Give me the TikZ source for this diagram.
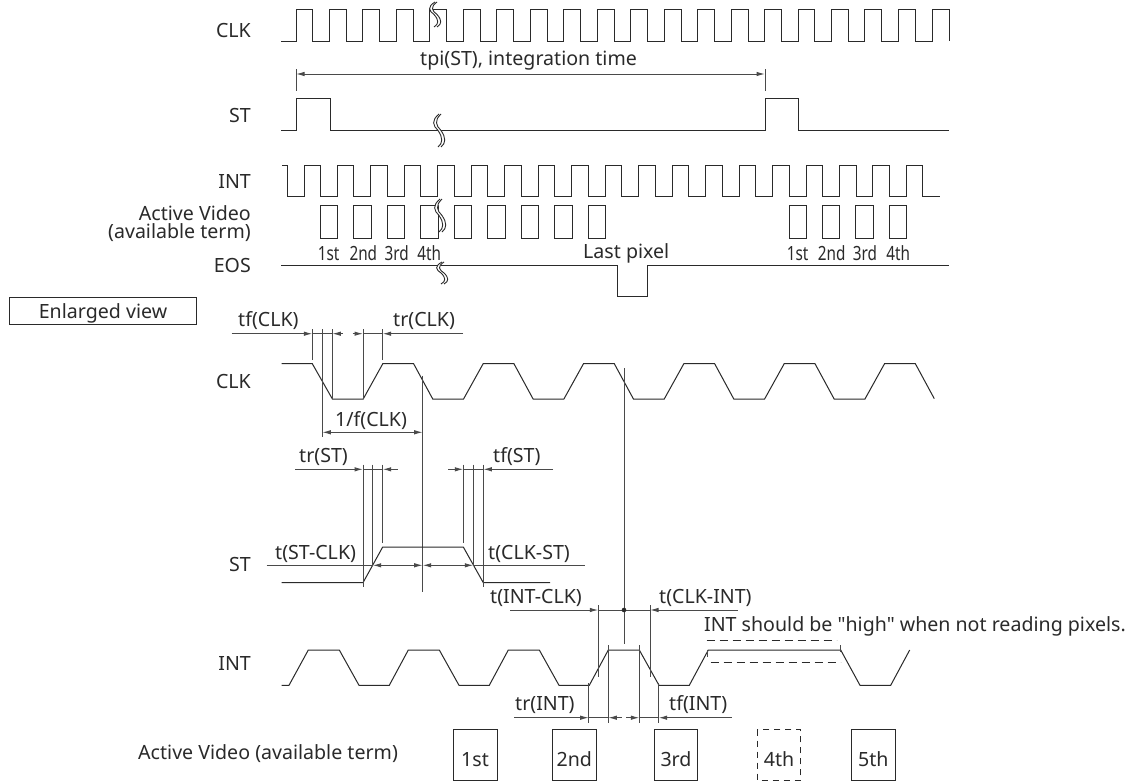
\documentclass[tikz,border=0pt]{standalone}
\usepackage{fontspec}
\setmainfont{Noto Sans}[Ligatures=TeXOff]
\usetikzlibrary{arrows.meta}
\definecolor{ink}{HTML}{2A2A2A}
\tikzset{
 wave/.style={draw=ink,line width=1pt,line join=miter},
 thin line/.style={draw=ink!85,line width=1pt},
 dim/.style={draw=ink!85,line width=1pt,{Latex[length=8.5pt,width=4.5pt]}-{Latex[length=8.5pt,width=4.5pt]}},
 tipend/.style={draw=ink!85,line width=1pt,-{Latex[length=8.5pt,width=4.5pt]}},
 lab/.style={inner sep=0pt,text=ink,font=\fontsize{19.6}{22}\selectfont,anchor=base west},
 rlab/.style={lab,anchor=base east},
 clab/.style={lab,anchor=base},
 slab/.style={inner sep=0pt,text=ink,font=\fontsize{19.6}{22}\selectfont,anchor=base,xscale=.78},
 box/.style={draw=ink,line width=1pt},
 dashbox/.style={draw=ink,line width=1pt,dash pattern=on 6pt off 5pt},
 dashline/.style={draw=ink,line width=1pt,dash pattern=on 8pt off 5pt},
}
\newcommand{\squig}[3]{% x, top, bottom
 \pgfmathsetmacro{\sqm}{#2+(#3-#2)*0.5}
 \pgfmathsetmacro{\sqn}{#2+(#3-#2)*0.72}
 \pgfmathsetmacro{\sqa}{#2+(#3-#2)*0.2}
 \pgfmathsetmacro{\sqb}{#2+(#3-#2)*0.35}
 \pgfmathsetmacro{\sqc}{#3-(#3-#2)*0.12}
 \path[fill=white] ({#1+1},#2) .. controls ({#1-7},\sqa) and ({#1-5},\sqb) .. (#1,\sqm)
   .. controls ({#1+5},\sqn) and ({#1+5},\sqc) .. (#1,#3) -- ({#1+3},#3)
   .. controls ({#1+8},\sqc) and ({#1+8},\sqn) .. ({#1+3},\sqm)
   .. controls ({#1-2},\sqb) and ({#1-4},\sqa) .. ({#1+4},#2) -- cycle;
 \draw[ink,line width=.9pt] ({#1+1},#2) .. controls ({#1-7},\sqa) and ({#1-5},\sqb) .. (#1,\sqm)
   .. controls ({#1+5},\sqn) and ({#1+5},\sqc) .. (#1,#3);
 \draw[ink,line width=.9pt] ({#1+3},#2) .. controls ({#1-4},\sqa) and ({#1-2},\sqb) .. ({#1+3},\sqm)
   .. controls ({#1+8},\sqn) and ({#1+8},\sqc) .. ({#1+3},#3);
}
\begin{document}
\begin{tikzpicture}[x=1pt,y=-1pt]
\useasboundingbox[fill=white] (0,0) rectangle (1128,782);

% ---------- overview ----------
\draw[wave] (281,41) foreach \k in {0,...,18} { -- ({296+33.47*\k},41) -- ({296+33.47*\k},9) -- ({312.9+33.47*\k},9) -- ({312.9+33.47*\k},41)} -- (932,41) -- (932,9) -- (949,9) -- (949,41);
\squig{434}{2}{27}
\draw[wave] (281,130) -- (296,130) -- (296,98) -- (330,98) -- (330,130) -- (765,130) -- (765,98) -- (798,98) -- (798,130) -- (949,130);
\squig{438}{114}{147}
\draw[thin line] (296,69) -- (296,91);
\draw[thin line] (765,69) -- (765,91);
\draw[dim] (296,74) -- (765,74);

\draw[wave] (282,165) -- (287,165) -- (287,196) foreach \k in {0,...,18} { -- ({304+33.47*\k},196) -- ({304+33.47*\k},165) -- ({320.5+33.47*\k},165) -- ({320.5+33.47*\k},196)} -- (940,196);
\foreach \k in {1,...,9,15,16,17,18}
  \draw[box] ({287+33.47*\k},205) rectangle ({304.3+33.47*\k},238);
\squig{439}{199}{232}
\draw[wave] (281,265) -- (617.3,265) -- (617.3,296.7) -- (647.7,296.7) -- (647.7,265) -- (949,265);
\squig{441}{262}{284}

\node[rlab] (l1) at (251,37) {CLK};
\node[rlab] (l2) at (251,122) {ST};
\node[rlab] (l3) at (251,188) {INT};
\node[rlab] (l4) at (251,220) {Active Video};
\node[rlab] (l5) at (251,238.7) {(available term)};
\node[rlab] (l6) at (251,272.7) {EOS};
\node[lab] (t0) at (420,65) {tpi(ST), integration time};
\node[slab] (s1) at (328.7,260) {1st};
\node[slab] (s2) at (363.3,260) {2nd};
\node[slab] (s3) at (396.7,260) {3rd};
\node[slab] (s4) at (429.3,260) {4th};
\node[slab] (s5) at (797.7,260) {1st};
\node[slab] (s6) at (831.7,260) {2nd};
\node[slab] (s7) at (865,260) {3rd};
\node[slab] (s8) at (898.3,260) {4th};
\node[lab] (lp) at (583,258) {Last pixel};

\draw[box] (9.3,297) rectangle (196.7,324);
\node[clab] (ev) at (103,318) {Enlarged view};

% ---------- enlarged CLK ----------
\draw[wave] (281.7,363.7) -- (312.3,363.7) foreach \k in {0,...,5} { -- ({332.4+100.35*\k},399) -- ({363.2+100.35*\k},399) -- ({382.8+100.35*\k},363.7) -- ({413.6+100.35*\k},363.7)} -- (934.3,398.7);
\node[rlab] (c1) at (251,388) {CLK};
\draw[thin line] (312.3,329) -- (312.3,360);
\draw[thin line] (322.3,329) -- (322.3,437);
\draw[thin line] (332.3,329) -- (332.3,399);
\draw[thin line] (363,329) -- (363,399);
\draw[thin line] (382.7,329) -- (382.7,360);
\draw[tipend] (231.7,333.7) -- (312.3,333.7);
\draw[thin line] (312.3,333.7) -- (332.3,333.7);
\draw[tipend] (342.7,333.7) -- (332.3,333.7);
\draw[tipend] (352.7,333.7) -- (363,333.7);
\draw[thin line] (363,333.7) -- (382.7,333.7);
\draw[tipend] (463,333.7) -- (382.7,333.7);
\node[lab] (c2) at (238,326) {tf(CLK)};
\node[lab] (c3) at (393,326) {tr(CLK)};
\draw[thin line] (422.7,375.7) -- (422.7,591.7);
\draw[dim] (322.3,432.3) -- (422.7,432.3);
\node[lab] (c4) at (335,426) {1/f(CLK)};

% ---------- enlarged ST ----------
\draw[wave] (281.7,582.7) -- (363,582.7) -- (382.7,547) -- (463.3,547) -- (483.3,582.7) -- (550,582.7);
\node[rlab] (d1) at (251,571.7) {ST};
\draw[thin line] (363,464.7) -- (363,586.7);
\draw[thin line] (372.7,464.7) -- (372.7,565.3);
\draw[thin line] (382.7,464.7) -- (382.7,543);
\draw[thin line] (463.3,464.7) -- (463.3,543);
\draw[thin line] (473.3,464.7) -- (473.3,565.3);
\draw[thin line] (483.3,464.7) -- (483.3,586.7);
\draw[tipend] (295,469.3) -- (363,469.3);
\draw[thin line] (363,469.3) -- (382.7,469.3);
\draw[tipend] (397.7,469.3) -- (382.7,469.3);
\draw[tipend] (448.3,469.3) -- (463.3,469.3);
\draw[thin line] (463.3,469.3) -- (483.3,469.3);
\draw[tipend] (553,469.3) -- (483.3,469.3);
\node[lab] (d2) at (299,462.7) {tr(ST)};
\node[lab] (d3) at (493,462.7) {tf(ST)};
\draw[thin line] (266.7,565.3) -- (372.7,565.3);
\draw[dim] (372.7,565.3) -- (422.7,565.3);
\draw[dim] (422.7,565.3) -- (473.3,565.3);
\draw[thin line] (473.3,565.3) -- (585,565.3);
\node[lab] (d4) at (275,559) {t(ST-CLK)};
\node[lab] (d5) at (488,559) {t(CLK-ST)};

% ---------- enlarged INT ----------
\draw[wave] (281.7,685.3) -- (289,685.3) foreach \k in {0,1,2,3} { -- ({308.3+100*\k},650) -- ({339.3+100*\k},650) -- ({359+100*\k},685.3) -- ({389.3+100*\k},685.3)} -- (708.3,650) -- (840.7,650) -- (860,685.3) -- (890.7,685.3) -- (909.7,650);
\node[rlab] (e1) at (251,670) {INT};
\draw[thin line] (598.3,605) -- (598.3,677);
\draw[thin line] (650,605) -- (650,677);
\draw[thin line] (624,368) -- (624,644);
\draw[tipend] (510,610) -- (598.3,610);
\draw[thin line] (598.3,610) -- (650,610);
\draw[tipend] (737.7,610) -- (650,610);
\fill[ink] (624,610) circle (2.3pt);
\node[lab] (e2) at (490,603) {t(INT-CLK)};
\node[lab] (e3) at (659,603) {t(CLK-INT)};
\draw[thin line] (588.7,683) -- (588.7,722.7);
\draw[thin line] (608.3,645) -- (608.3,722.7);
\draw[thin line] (639.3,645) -- (639.3,722.7);
\draw[thin line] (658.7,683) -- (658.7,722.7);
\draw[tipend] (514,717.7) -- (588.7,717.7);
\draw[thin line] (588.7,717.7) -- (608.3,717.7);
\draw[tipend] (621.7,717.7) -- (608.3,717.7);
\draw[tipend] (626,717.7) -- (639.3,717.7);
\draw[thin line] (639.3,717.7) -- (658.7,717.7);
\draw[tipend] (731.7,717.7) -- (658.7,717.7);
\node[lab] (e4) at (515,710.7) {tr(INT)};
\node[lab] (e5) at (669,710.7) {tf(INT)};
\draw[dashline] (706.7,640) -- (836.7,640);
\draw[dashline] (710.7,662.7) -- (840.7,662.7);
\draw[thin line] (707.5,650) -- (707.5,657);
\draw[thin line] (840.7,645) -- (840.7,652);
\node[lab] (e6) at (704,631.7) {INT should be "high" when not reading pixels.};

% ---------- boxes ----------
\node[lab] (f0) at (138,759) {Active Video (available term)};
\draw[box] (453.3,729.7) rectangle (497,780.3);
\draw[box] (552.7,729.7) rectangle (596,780.3);
\draw[box] (654.3,729.7) rectangle (697.7,780.3);
\draw[dashbox] (757.3,729.7) rectangle (800.7,780.3);
\draw[box] (851.7,729.7) rectangle (895,780.3);
\node[clab] (f1) at (475,766) {1st};
\node[clab] (f2) at (574.3,766) {2nd};
\node[clab] (f3) at (676,766) {3rd};
\node[clab] (f4) at (779,766) {4th};
\node[clab] (f5) at (873.3,766) {5th};
\end{tikzpicture}
\end{document}
